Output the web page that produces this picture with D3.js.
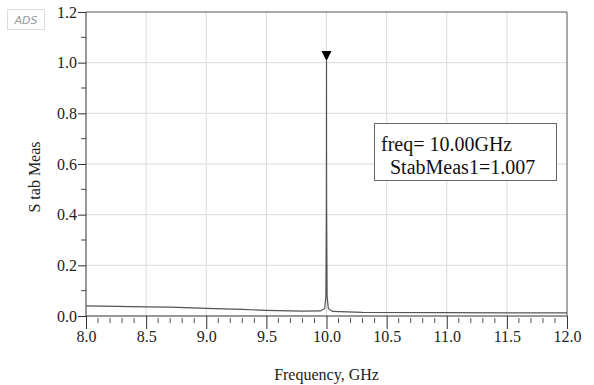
<!DOCTYPE html>
<html><head><meta charset="utf-8">
<script src="https://cdn.jsdelivr.net/npm/d3@7"></script>
<style>body{margin:0;background:#fff}svg{display:block}
.ax text{font-family:'Liberation Serif','Times New Roman',serif !important;font-size:16px !important;fill:#222}</style>
</head><body>
<svg id="c" width="594" height="385"></svg>
<script>
const freqGHz = [8.0, 8.5, 8.7, 9.0, 9.3, 9.5, 9.8, 9.95, 9.985, 9.995, 9.999, 10.0, 10.001, 10.005, 10.015, 10.05, 10.3, 11.0, 11.5, 12.0];
const stabMeas = [0.040, 0.036, 0.035, 0.030, 0.026, 0.022, 0.019, 0.020, 0.030, 0.080, 0.45, 1.007, 0.45, 0.080, 0.030, 0.018, 0.014, 0.013, 0.012, 0.012];
const xTicks = [8.0, 8.5, 9.0, 9.5, 10.0, 10.5, 11.0, 11.5, 12.0];
const yTicks = [0.0, 0.2, 0.4, 0.6, 0.8, 1.0, 1.2];
const markerFreq = 10.0, markerVal = 1.007;
const markerLines = ["freq= 10.00GHz", "StabMeas1=1.007"];

const svg = d3.select("#c");
const L = 86, R = 567, T = 12, B = 316;
const x = d3.scaleLinear().domain([8, 12]).range([L, R]);
const y = d3.scaleLinear().domain([0, 1.2]).range([B, T]);
const font = "'Liberation Serif', 'Times New Roman', serif";

// ADS logo
svg.append("rect").attr("x", 7.5).attr("y", 9.5).attr("width", 37).attr("height", 20)
  .attr("fill", "#fff").attr("stroke", "#ddd");
svg.append("text").attr("x", 26).attr("y", 24).attr("text-anchor", "middle")
  .attr("font-family", "'DejaVu Sans', sans-serif").attr("font-size", 11).attr("font-style", "italic")
  .attr("fill", "#999").text("ADS");

// gridlines
svg.append("g").selectAll("line").data(yTicks.slice(1, -1)).join("line")
  .attr("x1", L).attr("x2", R).attr("y1", d => y(d)).attr("y2", d => y(d))
  .attr("stroke", "#dcdcdc").attr("stroke-width", 1);
svg.append("g").selectAll("line").data(xTicks.slice(1, -1)).join("line")
  .attr("y1", T).attr("y2", B).attr("x1", d => x(d)).attr("x2", d => x(d))
  .attr("stroke", "#dcdcdc").attr("stroke-width", 1);

// frame
svg.append("path").attr("d", `M${L},${T}H${R}V${B}`).attr("fill", "none").attr("stroke", "#555").attr("stroke-width", 1);

// y axis
const yAxis = d3.axisLeft(y).tickValues(yTicks).tickFormat(d3.format(".1f")).tickSize(8).tickPadding(1);
const gy = svg.append("g").attr("class", "ax").attr("transform", `translate(${L},0)`).call(yAxis);
const yMinor = d3.range(0.1, 1.2, 0.2);
gy.append("g").selectAll("line").data(yMinor).join("line")
  .attr("x1", -5).attr("x2", 0).attr("y1", d => y(d)).attr("y2", d => y(d)).attr("stroke", "#444");

// x axis
const xAxis = d3.axisBottom(x).tickValues(xTicks).tickFormat(d3.format(".1f")).tickSize(13).tickPadding(2);
const gx = svg.append("g").attr("class", "ax").attr("transform", `translate(0,${B})`).call(xAxis);
const xMinor = d3.range(8.1, 12, 0.1).filter(v => Math.abs(v * 2 - Math.round(v * 2)) > 0.01);
gx.append("g").selectAll("line").data(xMinor).join("line")
  .attr("x1", d => x(d)).attr("x2", d => x(d)).attr("y1", 2).attr("y2", 7).attr("stroke", "#555");

[gx, gy].forEach(g => {
  g.attr("font-family", font).attr("font-size", 16);
  g.select(".domain").attr("stroke", "#333");
  g.selectAll(".tick line").attr("stroke", "#333");
  g.selectAll("text").style("font-family", font).style("font-size", "16px").attr("fill", "#222");
});
gy.select(".domain").attr("d", `M0,${T}V${B}`);
gx.select(".domain").attr("d", `M${L},0H${R}`);

// titles
svg.append("text").attr("x", (L + R) / 2).attr("y", 380).attr("text-anchor", "middle")
  .style("font-family", font).style("font-size", "16px").attr("fill", "#222").text("Frequency, GHz");
svg.append("text").attr("transform", `translate(40,${(T + B) / 2 + 13}) rotate(-90)`).attr("text-anchor", "middle")
  .style("font-family", font).style("font-size", "16px").attr("fill", "#222").text("S tab Meas");

// data trace
svg.append("path").datum(freqGHz.map((f, i) => [f, stabMeas[i]]))
  .attr("d", d3.line().x(d => x(d[0])).y(d => y(d[1])))
  .attr("fill", "none").attr("stroke", "#555").attr("stroke-width", 1.2);

// marker
const mx = x(markerFreq), my = y(markerVal);
svg.append("path").attr("d", `M${mx},${my}L${mx - 5},${my - 10}L${mx + 5},${my - 10}Z`).attr("fill", "#000");

// marker readout box
svg.append("rect").attr("x", 374.5).attr("y", 123.5).attr("width", 182).attr("height", 57)
  .attr("fill", "#fff").attr("stroke", "#666").attr("stroke-width", 1);
const mt = svg.append("text").style("font-family", font).style("font-size", "20px").attr("fill", "#111");
mt.append("tspan").attr("x", 381).attr("y", 151).text(markerLines[0]);
mt.append("tspan").attr("x", 390).attr("y", 174).text(markerLines[1]);
</script>
</body></html>
